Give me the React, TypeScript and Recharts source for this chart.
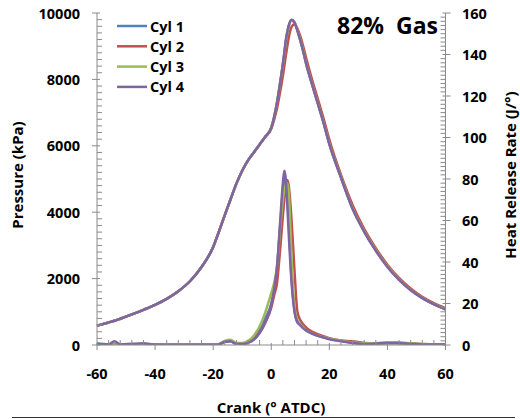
import { LineChart, Line, XAxis, YAxis } from 'recharts';

const crank = [-60, -56, -54, -52, -48, -44, -40, -36, -32, -28, -24, -20, -18, -16, -14, -12, -10, -8, -6, -4, -2, 0, 1, 2, 3, 4, 4.5, 5, 5.5, 6, 7, 8, 9, 10, 11, 12, 14, 16, 18, 20, 24, 28, 32, 36, 40, 44, 48, 52, 56, 60];

// pressure (kPa)
const p1 = [580, 680, 730, 790, 920, 1060, 1210, 1390, 1620, 1920, 2350, 2950, 3420, 3910, 4390, 4860, 5250, 5560, 5800, 6040, 6280, 6540, 6860, 7300, 7850, 8450, 8780, 9150, 9400, 9600, 9790, 9720, 9480, 9180, 8850, 8480, 7870, 7290, 6700, 6060, 5050, 4110, 3420, 2850, 2360, 1970, 1660, 1420, 1230, 1080];
const p2 = [580, 680, 730, 790, 920, 1060, 1210, 1390, 1620, 1920, 2350, 2950, 3420, 3910, 4390, 4860, 5250, 5560, 5800, 6040, 6270, 6510, 6790, 7130, 7600, 8100, 8400, 8700, 8980, 9250, 9580, 9660, 9530, 9300, 9000, 8650, 8010, 7420, 6830, 6190, 5130, 4220, 3500, 2920, 2420, 2020, 1700, 1450, 1260, 1110];
const p3 = [580, 680, 730, 790, 920, 1060, 1210, 1390, 1620, 1920, 2350, 2950, 3420, 3910, 4390, 4860, 5250, 5560, 5800, 6050, 6290, 6560, 6880, 7320, 7860, 8440, 8760, 9120, 9380, 9580, 9770, 9720, 9490, 9190, 8860, 8490, 7880, 7300, 6710, 6070, 5060, 4120, 3430, 2860, 2370, 1980, 1660, 1420, 1230, 1080];
const p4 = [580, 680, 730, 790, 920, 1060, 1210, 1390, 1620, 1920, 2350, 2950, 3420, 3910, 4390, 4860, 5250, 5560, 5800, 6040, 6280, 6540, 6870, 7310, 7870, 8470, 8800, 9170, 9420, 9620, 9800, 9720, 9470, 9170, 8840, 8470, 7860, 7280, 6690, 6050, 5040, 4100, 3410, 2840, 2350, 1960, 1650, 1410, 1220, 1070];

// heat release rate (J/deg)
const h1 = [0.8, 0.3, 0.5, 0.2, 0.3, 0.4, 0.2, 0.1, 0.1, 0.1, 0.1, 0.1, 0.3, 1.5, 1.8, 0.6, 0.6, 1.2, 3, 7, 13, 20, 27, 37, 56, 74, 79, 80, 72, 60, 32, 17, 11, 10, 8.5, 7.2, 5.8, 4.6, 3.8, 3, 2, 1.2, 0.6, 0.8, 1, 1, 0.6, 0.3, 0.3, 0.3];
const h2 = [0, 0.2, 0.3, 0.2, 0.2, 0.3, 0.2, 0.1, 0.1, 0.1, 0.1, 0.2, 0.4, 1.6, 2, 0.7, 0.7, 1.3, 3, 6, 11, 18, 24, 30, 45, 62, 70, 76, 79.5, 77, 60, 36, 16, 12, 10, 8.5, 6.5, 5.2, 4.2, 3.3, 2.2, 1.8, 1, 0.8, 1, 1, 0.8, 0.5, 0.3, 0.3];
const h3 = [0, 0, 0.3, 0.2, 0.2, 0.3, 0.2, 0.1, 0.1, 0.1, 0.1, 0.2, 0.5, 2, 2.5, 1, 1, 2, 4.5, 9, 16, 25, 30, 38, 55, 70, 75, 77, 78, 74, 42, 18, 12, 10, 8.5, 7, 5.6, 4.5, 3.7, 3, 2, 1.2, 0.8, 0.9, 1.2, 1.2, 0.8, 0.4, 0.3, 0.2];
const h4 = [0.3, 0.3, 1.8, 0.3, 0.6, 0.8, 0.2, 0.1, 0.1, 0.1, 0.1, 0.1, 0.3, 1.6, 1.8, 0.5, 0.5, 1, 2.5, 5.8, 11, 19, 27, 38, 58, 78, 84, 80, 68, 54, 30, 16, 11, 9.5, 8, 7, 5.5, 4.4, 3.6, 2.8, 1.8, 1, 0.5, 0.7, 1, 1, 0.5, 0.2, 0.2, 0.2];

const names = ['Cyl 1', 'Cyl 2', 'Cyl 3', 'Cyl 4'];
const colors = ['#4F81BD', '#C0504D', '#9BBB59', '#8064A2'];
const pressures = [p1, p2, p3, p4];
const heats = [h1, h2, h3, h4];

const xTicks = Array.from({ length: 31 }, (_, i) => -60 + i * 4);
const leftTicks = Array.from({ length: 51 }, (_, i) => i * 200);
const rightTicks = Array.from({ length: 81 }, (_, i) => i * 2);

const data = crank.map((c, i) => {
  const row: Record<string, number> = { crank: c };
  for (let k = 0; k < 4; k++) {
    row['p' + k] = pressures[k][i];
    row['h' + k] = heats[k][i];
  }
  return row;
});

const font = '"Open Sans", "Liberation Sans", sans-serif';
const axisColor = '#8a8a8a';

const XTick = (props: any) => {
  const { x, y, payload } = props;
  const major = Math.abs(payload.value % 20) < 1e-6;
  return (
    <g>
      {major ? (
        <line x1={x} x2={x} y1={y - 2} y2={y + 5} stroke={axisColor} />
      ) : (
        <line x1={x} x2={x} y1={y} y2={y - 5} stroke={axisColor} />
      )}
      {major && (
        <text x={x} y={y + 28} textAnchor="middle" dominantBaseline="central" fontFamily={font} fontWeight={700} fontSize={14.5} fill="#000">
          {payload.value}
        </text>
      )}
    </g>
  );
};

const LeftTick = (props: any) => {
  const { x, y, payload } = props;
  const major = payload.value % 2000 === 0;
  return (
    <g>
      {major ? (
        <line x1={x - 5} x2={x + 3} y1={y} y2={y} stroke={axisColor} />
      ) : (
        <line x1={x} x2={x + 5} y1={y} y2={y} stroke={axisColor} />
      )}
      {major && (
        <text x={x - 17} y={y} textAnchor="end" dominantBaseline="central" fontFamily={font} fontWeight={700} fontSize={14.5} fill="#000">
          {payload.value}
        </text>
      )}
    </g>
  );
};

const RightTick = (props: any) => {
  const { x, y, payload } = props;
  const major = payload.value % 20 === 0;
  return (
    <g>
      {major ? (
        <line x1={x - 3} x2={x + 5} y1={y} y2={y} stroke={axisColor} />
      ) : (
        <line x1={x} x2={x - 5} y1={y} y2={y} stroke={axisColor} />
      )}
      {major && (
        <text x={x + 16.5} y={y} textAnchor="start" dominantBaseline="central" fontFamily={font} fontWeight={700} fontSize={14.5} fill="#000">
          {payload.value}
        </text>
      )}
    </g>
  );
};

export default function App() {
  return (
    <div style={{ position: 'absolute', left: 0, top: 0, width: 520, height: 419, background: '#fff' }}>
      <LineChart width={520} height={419} data={data} margin={{ top: 13, right: 14.5, bottom: 14, left: 37 }}>
        <XAxis
          dataKey="crank"
          type="number"
          domain={[-60, 60]}
          ticks={xTicks}
          interval={0}
          tickSize={0}
          tickMargin={0}
          tick={<XTick />}
          height={60}
          stroke={axisColor}
        />
        <YAxis
          yAxisId="left"
          domain={[0, 10000]}
          ticks={leftTicks}
          interval={0}
          tickSize={0}
          tickMargin={0}
          tick={<LeftTick />}
          width={60}
          stroke={axisColor}
          allowDataOverflow
        />
        <YAxis
          yAxisId="right"
          orientation="right"
          domain={[0, 160]}
          ticks={rightTicks}
          interval={0}
          tickSize={0}
          tickMargin={0}
          tick={<RightTick />}
          width={60}
          stroke={axisColor}
          allowDataOverflow
        />
        {names.map((n, k) => (
          <Line
            key={'p' + k}
            yAxisId="left"
            dataKey={'p' + k}
            name={n}
            type="monotone"
            stroke={colors[k]}
            strokeWidth={2.5}
            dot={false}
            isAnimationActive={false}
          />
        ))}
        {names.map((n, k) => (
          <Line
            key={'h' + k}
            yAxisId="right"
            dataKey={'h' + k}
            name={n}
            type="monotone"
            stroke={colors[k]}
            strokeWidth={2.5}
            dot={false}
            isAnimationActive={false}
          />
        ))}
        <g>
          {names.map((n, k) => (
            <g key={n}>
              <line x1={117} x2={147} y1={26 + k * 20.3} y2={26 + k * 20.3} stroke={colors[k]} strokeWidth={2.5} />
              <text x={150} y={26 + k * 20.3} dominantBaseline="central" fontFamily={font} fontWeight={700} fontSize={14.5} fill="#000">
                {n}
              </text>
            </g>
          ))}
        </g>
        <text x={438} y={25} textAnchor="end" dominantBaseline="central" fontFamily={font} fontWeight={700} fontSize={23} fill="#000" style={{ whiteSpace: 'pre' }}>
          82%  Gas
        </text>
        <text transform="translate(17,175) rotate(-90)" textAnchor="middle" dominantBaseline="central" fontFamily={font} fontWeight={700} fontSize={15} fill="#000">
          Pressure (kPa)
        </text>
        <text transform="translate(510,175) rotate(-90)" textAnchor="middle" dominantBaseline="central" fontFamily={font} fontWeight={700} fontSize={15} fill="#000">
          Heat Release Rate (J/°)
        </text>
        <text x={271} y={407} textAnchor="middle" dominantBaseline="central" fontFamily={font} fontWeight={700} fontSize={15} fill="#000">
          Crank (° ATDC)
        </text>
        <line x1={12} x2={515} y1={417.5} y2={417.5} stroke="#333" strokeWidth={1} />
      </LineChart>
    </div>
  );
}
